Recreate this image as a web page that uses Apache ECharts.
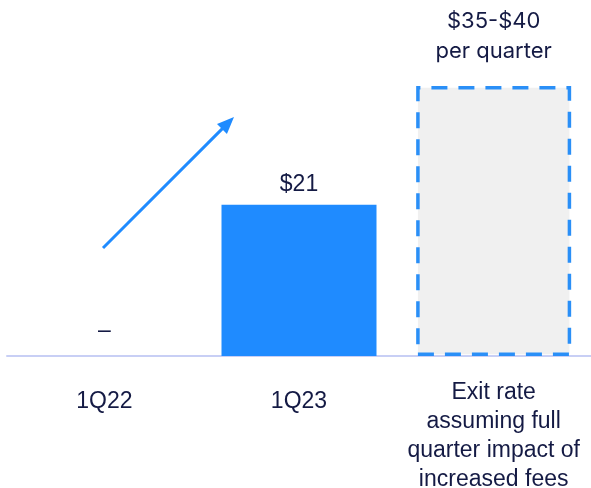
<!DOCTYPE html>
<html>
<head>
<meta charset="utf-8">
<style>
  html, body { margin: 0; padding: 0; background: #ffffff; }
  #chart { width: 591px; height: 488px; }
</style>
<script src="https://cdn.jsdelivr.net/npm/echarts@6/dist/echarts.min.js"></script>
</head>
<body>
<div id="chart"></div>
<script>
// Quarterly fee revenue: history and run-rate outlook
const categories = ['1Q22', '1Q23', 'Exit rate\nassuming full\nquarter impact of\nincreased fees'];
const values = [0, 21, 37.5];
const valueLabels = ['–', '$21', '$35-$40\nper quarter'];

const TEXT = '#141a44';
const BLUE = '#1f8bff';
const FONT = '"Liberation Sans", Arial, sans-serif';

const chart = echarts.init(document.getElementById('chart'));

const barData = values.map(function (v, i) {
  const item = { value: v, label: { formatter: valueLabels[i] } };
  if (i === 0) {
    item.label.distance = 14;
  }
  if (i === 2) {
    item.itemStyle = {
      color: '#f0f0f0',
      borderColor: '#2a8ff7',
      borderWidth: 3.5,
      borderType: [16, 11]
    };
    item.label.fontFamily = 'Inter, "Noto Sans", sans-serif';
    item.label.fontSize = 22;
    item.label.lineHeight = 30;
    item.label.distance = 20;
  }
  return item;
});

const axisData = categories.map(function (c, i) {
  return i < 2 ? { value: c, textStyle: { padding: [9, 0, 0, 0] } } : { value: c };
});

// Arrow annotation showing growth between the first two quarters
const arrowStart = [103, 248];
const arrowTip = [234, 117];
const dx = arrowTip[0] - arrowStart[0], dy = arrowTip[1] - arrowStart[1];
const len = Math.sqrt(dx * dx + dy * dy);
const ux = dx / len, uy = dy / len;
const headLen = 17, headHalf = 7;
const baseX = arrowTip[0] - ux * headLen, baseY = arrowTip[1] - uy * headLen;

chart.setOption({
  animation: false,
  grid: { left: 7, right: 0, top: 68, bottom: 132, containLabel: false, outerBoundsMode: 'none' },
  xAxis: {
    type: 'category',
    data: axisData,
    axisLine: { show: true, lineStyle: { color: '#c8cff5', width: 2 } },
    axisTick: { show: false },
    axisLabel: {
      color: TEXT,
      fontFamily: FONT,
      fontSize: 23,
      lineHeight: 29,
      margin: 22,
      interval: 0
    }
  },
  yAxis: {
    type: 'value',
    min: 0,
    max: 40,
    show: false,
    splitLine: { show: false }
  },
  series: [{
    type: 'bar',
    data: barData,
    barWidth: 155,
    itemStyle: { color: BLUE },
    label: {
      show: true,
      position: 'top',
      distance: 9,
      color: TEXT,
      fontFamily: FONT,
      fontSize: 23
    }
  }],
  graphic: [{
    type: 'group',
    z: 100,
    children: [
      {
        type: 'line',
        shape: { x1: arrowStart[0], y1: arrowStart[1], x2: baseX + ux * 2, y2: baseY + uy * 2 },
        style: { stroke: BLUE, lineWidth: 3 }
      },
      {
        type: 'polygon',
        shape: {
          points: [
            arrowTip,
            [baseX - uy * headHalf, baseY + ux * headHalf],
            [baseX + uy * headHalf, baseY - ux * headHalf]
          ]
        },
        style: { fill: BLUE }
      }
    ]
  }]
});
</script>
</body>
</html>
